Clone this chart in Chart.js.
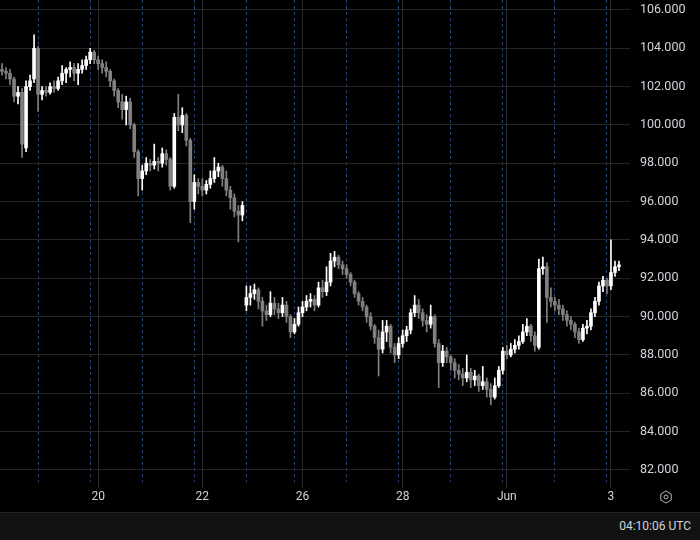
<!DOCTYPE html>
<html>
<head>
<meta charset="utf-8">
<script src="https://cdn.jsdelivr.net/npm/chart.js@4/dist/chart.umd.min.js"></script>
<style>
  html, body { margin: 0; padding: 0; background: #000; }
  #wrap { width: 700px; height: 540px; position: relative; background: #000; }
  #bottom {
    position: absolute; left: 0; top: 512px; width: 700px; height: 28px;
    background: #121212; border-top: 1px solid #242424; box-sizing: border-box;
    color: #d1d4dc; font: 12px Roboto, sans-serif;
  }
  #clock { position: absolute; right: 9px; top: 6px; }
</style>
</head>
<body>
<div id="wrap">
  <canvas id="chart" width="700" height="512"></canvas>
  <div id="bottom"><span id="clock">04:10:06 UTC</span></div>
</div>
<script>
// candles, one slot per bar, oldest first
const opens = [102.9,102.8,102.7,102.4,101.5,101.7,98.8,102.0,102.4,104.0,
  101.6,101.8,101.7,102.0,101.9,102.3,102.7,102.9,103.0,102.7,
  102.9,103.1,103.4,103.8,103.4,103.2,103.0,102.8,102.3,101.8,
  101.2,100.8,101.2,100.0,98.6,97.2,97.6,98.0,97.9,98.1,
  98.0,98.5,98.2,96.8,100.4,100.0,100.5,99.2,96.0,97.0,
  96.8,96.6,96.9,97.2,97.6,97.8,97.2,96.6,96.2,95.5,
  95.3,90.6,91.0,91.2,91.4,90.8,90.3,90.1,90.7,90.4,
  90.2,90.6,90.0,89.2,89.6,90.2,90.5,90.8,90.9,90.6,
  91.5,91.3,91.8,92.9,93.1,92.7,92.5,92.2,91.8,91.2,
  90.8,90.5,90.0,89.5,88.9,88.3,89.2,89.5,88.4,88.0,
  88.6,89.0,89.3,90.2,90.6,90.2,89.8,89.6,90.0,88.6,
  87.6,88.2,87.9,87.6,87.2,87.0,86.8,87.1,86.7,86.9,
  86.4,86.6,86.2,85.8,86.4,87.2,88.2,88.0,88.3,88.5,
  88.7,89.2,89.5,89.0,88.4,92.5,92.6,91.0,90.8,90.6,
  90.4,90.1,89.8,89.6,89.2,88.8,89.4,89.5,90.2,90.8,
  91.6,91.9,91.6,92.3,92.6];
const highs = [103.2,103.0,102.9,102.5,102.0,101.9,102.3,102.6,104.7,104.1,
  102.0,102.0,102.2,102.3,102.5,103.1,103.0,103.3,103.2,103.2,
  103.4,103.6,104.0,103.9,103.6,103.4,103.3,102.9,102.4,101.9,
  101.6,101.5,101.4,100.1,98.7,97.9,98.3,98.2,99.0,98.3,
  98.8,98.7,98.3,100.6,101.6,100.9,100.6,99.3,97.4,97.2,
  97.2,97.1,97.6,98.3,98.0,97.9,97.6,96.8,96.4,95.8,
  96.0,91.6,91.6,91.7,91.5,91.0,90.6,91.3,91.0,90.7,
  91.0,90.8,90.1,89.9,90.5,90.8,91.1,91.2,91.1,91.8,
  91.9,92.6,93.3,93.4,93.2,92.9,92.7,92.3,91.9,91.3,
  91.0,90.6,90.2,89.6,89.3,89.8,89.8,89.6,88.6,88.9,
  89.3,89.5,90.4,91.1,90.9,90.4,90.1,90.6,90.1,88.8,
  88.5,88.4,88.0,87.8,87.5,87.3,88.0,87.3,87.2,87.0,
  87.4,86.8,86.5,86.8,87.4,88.4,88.5,88.6,88.8,89.0,
  89.6,89.9,89.6,89.2,93.0,93.1,92.8,91.5,91.0,90.9,
  90.6,90.3,90.0,89.7,89.4,89.6,89.8,90.4,91.0,91.8,
  92.1,92.0,94.0,92.9,92.9];
const lows = [102.6,102.4,102.1,101.2,101.1,98.3,98.6,101.8,102.2,100.7,
  101.3,101.5,101.6,101.7,101.8,102.1,102.2,102.5,102.3,102.1,
  102.7,102.9,103.2,103.2,102.9,102.7,102.5,102.0,101.5,100.9,
  100.3,100.0,99.8,98.3,96.3,96.6,97.4,97.6,97.7,97.6,
  97.8,97.9,96.6,96.7,99.7,99.6,98.9,94.9,95.6,96.4,
  96.3,96.4,96.7,97.0,97.3,96.8,96.3,95.6,95.2,93.9,
  95.0,90.3,90.6,90.9,90.4,89.5,89.8,90.0,90.1,89.9,
  90.0,89.7,88.9,89.1,89.5,90.0,90.3,90.5,90.3,90.5,
  91.0,91.1,91.6,92.6,92.5,92.2,92.0,91.6,91.0,90.6,
  90.3,89.7,89.3,88.6,86.9,88.1,88.7,88.1,87.6,87.8,
  88.4,88.7,89.1,90.0,89.9,89.5,89.2,89.4,88.4,86.3,
  87.4,87.6,87.2,86.8,86.7,86.4,86.6,86.3,86.4,86.1,
  86.2,85.8,85.4,85.7,86.3,87.0,87.8,87.9,88.1,88.3,
  88.6,89.0,88.7,88.2,88.3,92.2,89.7,90.5,90.3,90.1,
  89.8,89.5,89.3,88.9,88.6,88.7,89.1,89.3,90.0,90.6,
  91.3,91.2,91.4,92.1,92.4];
const closes = [102.8,102.7,102.4,101.5,101.7,99.0,102.0,102.3,104.0,101.6,
  101.8,101.7,102.0,101.9,102.3,102.7,102.9,103.0,102.7,102.9,
  103.1,103.4,103.8,103.4,103.2,103.0,102.8,102.3,101.8,101.2,
  100.8,101.2,100.0,98.6,97.2,97.6,98.0,97.9,98.1,98.0,
  98.5,98.2,96.8,100.4,100.0,100.5,99.2,96.0,97.0,96.8,
  96.6,96.9,97.2,97.6,97.8,97.2,96.6,96.2,95.5,95.3,
  95.8,91.0,91.2,91.4,90.8,90.3,90.1,90.7,90.4,90.2,
  90.6,90.0,89.2,89.6,90.2,90.5,90.8,90.9,90.6,91.5,
  91.3,91.8,92.9,93.1,92.7,92.5,92.2,91.8,91.2,90.8,
  90.5,90.0,89.5,88.9,88.3,89.2,89.5,88.4,88.0,88.6,
  89.0,89.3,90.2,90.6,90.2,89.8,89.6,90.0,88.6,87.6,
  88.2,87.9,87.6,87.2,87.0,86.8,87.1,86.7,86.9,86.4,
  86.6,86.2,85.8,86.4,87.2,88.2,88.0,88.3,88.5,88.7,
  89.2,89.5,89.0,88.5,92.5,92.6,91.0,90.8,90.6,90.4,
  90.1,89.8,89.6,89.2,88.8,89.4,89.5,90.2,90.8,91.6,
  91.9,91.6,92.3,92.6,92.7];

// time axis: slot index of each labelled day, and session breaks
const dayTickSlots = [24, 50, 75, 100, 126, 152];
const dayTickLabels = ['20', '22', '26', '28', 'Jun', '3'];
const sessionBreakSlots = [9, 22, 35, 48, 61, 73, 86, 99, 112, 125, 138, 151];
const priceTicks = [82, 84, 86, 88, 90, 92, 94, 96, 98, 100, 102, 104, 106];

const slotCount = 156;
const slots = [];
for (let i = 0; i < slotCount; i++) slots.push(String(i));

const upColor = '#ffffff';
const downColor = '#808080';
const candleColors = opens.map((o, i) => closes[i] >= o ? upColor : downColor);

const gearIcon = {
  id: 'gearIcon',
  afterDraw(chart) {
    const c = chart.ctx;
    const cx = 666, cy = 497, r = 6;
    c.save();
    c.strokeStyle = '#b2b5be';
    c.lineWidth = 1;
    c.beginPath();
    for (let k = 0; k < 6; k++) {
      const a = Math.PI / 6 + k * Math.PI / 3;
      const px = cx + r * Math.cos(a), py = cy + r * Math.sin(a);
      if (k === 0) c.moveTo(px, py); else c.lineTo(px, py);
    }
    c.closePath();
    c.stroke();
    c.beginPath();
    c.arc(cx, cy, 2, 0, Math.PI * 2);
    c.stroke();
    c.restore();
  }
};

const ctx = document.getElementById('chart').getContext('2d');
new Chart(ctx, {
  type: 'bar',
  data: {
    labels: slots,
    datasets: [
      {
        label: 'bodies',
        data: opens.map((o, i) => [o, closes[i]]),
        backgroundColor: candleColors,
        barThickness: 3,
        minBarLength: 1,
        grouped: false,
        borderWidth: 0,
        order: 0
      },
      {
        label: 'wicks',
        data: lows.map((l, i) => [l, highs[i]]),
        backgroundColor: candleColors,
        barThickness: 1,
        grouped: false,
        borderWidth: 0,
        order: 1
      }
    ]
  },
  options: {
    responsive: false,
    animation: false,
    layout: { padding: 0 },
    plugins: { legend: { display: false }, tooltip: { enabled: false } },
    scales: {
      x: {
        type: 'category',
        offset: true,
        grid: { color: '#2a2a2a', offset: false, tickLength: 6, tickColor: '#2a2a2a' },
        border: { display: false },
        afterBuildTicks: (s) => { s.ticks = dayTickSlots.map(v => ({ value: v })); },
        afterFit: (s) => { s.height = 30; s.paddingLeft = 0; s.paddingRight = 0; },
        ticks: {
          autoSkip: false, maxRotation: 0, padding: 2,
          color: '#d1d4dc', font: { family: 'Roboto', size: 12 },
          callback: (v) => dayTickLabels[dayTickSlots.indexOf(v)]
        }
      },
      sessions: {
        type: 'category',
        position: 'bottom',
        offset: true,
        grid: { color: '#22457a', offset: false, drawTicks: false },
        border: { display: false, dash: [3, 3] },
        afterBuildTicks: (s) => { s.ticks = sessionBreakSlots.map(v => ({ value: v })); },
        afterFit: (s) => { s.height = 0; s.paddingLeft = 0; s.paddingRight = 0; },
        ticks: { display: false }
      },
      y: {
        position: 'right',
        min: 81.37,
        max: 106.52,
        grid: { color: '#262626', tickLength: 5, tickColor: '#262626' },
        border: { display: false },
        afterBuildTicks: (s) => { s.ticks = priceTicks.map(v => ({ value: v })); },
        afterFit: (s) => { s.width = 75; s.paddingTop = 0; s.paddingBottom = 0; },
        ticks: {
          padding: 10, color: '#d1d4dc', font: { family: 'Roboto', size: 12.5 },
          callback: (v) => v.toFixed(3)
        }
      }
    }
  },
  plugins: [gearIcon]
});
</script>
</body>
</html>
